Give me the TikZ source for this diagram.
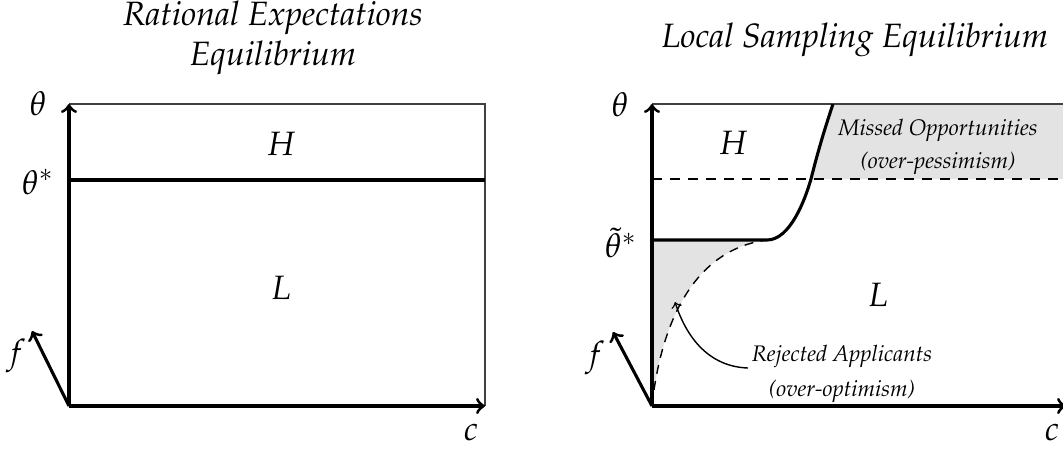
\documentclass[tikz,border=0pt]{standalone}
\usepackage{amsmath}
\usepackage{mathpazo}
\usepackage[T1]{fontenc}
\usetikzlibrary{calc}

\begin{document}
\begin{tikzpicture}[x=0.0125cm, y=-0.0125cm, thick,
    axis/.style={line width=1.1pt, ->},
    frame/.style={line width=0.5pt, black!75},
    shade/.style={fill=black!11, draw=none},
    note/.style={font=\footnotesize\itshape, align=center, inner sep=1pt}]
  \useasboundingbox (0,0) rectangle (1063,448);

  % left panel: rational expectations
  \coordinate (O1) at (69,406);
  \coordinate (Y1) at (69,104);
  \coordinate (X1) at (485,406);
  \coordinate (F1) at (32,331);
  \coordinate (T1) at (485,104);
  \coordinate (S1a) at (69,180);
  \coordinate (S1b) at (485,180);

  \draw[frame] (Y1) -- (T1) -- (X1);
  \draw[line width=1.1pt] (S1a) -- (S1b);
  \draw[axis] (O1) -- (Y1);
  \draw[axis] (O1) -- (X1);
  \draw[axis] (O1) -- (F1);

  \node[font=\large\itshape, align=center] (title1) at (273,38) {Rational Expectations\\Equilibrium};
  \node[font=\large] (th1)  at (38,104) {$\theta$};
  \node[font=\large] (ths1) at (38,182) {$\theta^*$};
  \node[font=\large] (H1)   at (281,144) {$H$};
  \node[font=\large] (L1)   at (281,288) {$L$};
  \node[font=\large] (f1)   at (16,356) {$f$};
  \node[font=\large] (c1)   at (471,432) {$c$};

  % right panel: local sampling
  \coordinate (O2) at (652,406);
  \coordinate (Y2) at (652,104);
  \coordinate (X2) at (1066,406);
  \coordinate (F2) at (613,332);
  \coordinate (T2) at (1063,104);
  \coordinate (K)  at (767,240);   % kink of the cutoff
  \coordinate (M)  at (811,179);   % cutoff meets dashed line
  \coordinate (P)  at (833,104);   % cutoff at top
  \coordinate (D2a) at (652,179);
  \coordinate (D2b) at (1063,179);

  % shaded regions
  \fill[shade] (M) .. controls (819,147) and (826,125) .. (P) -- (T2) -- (D2b) -- cycle;
  \fill[shade] (652,240) -- (K) .. controls (690,250) and (660,330) .. (O2) -- cycle;

  \draw[frame] (Y2) -- (T2);
  \draw[line width=0.5pt, dash pattern=on 3.6pt off 2.8pt] (D2a) -- (D2b);
  \draw[line width=0.5pt, dash pattern=on 3.2pt off 2.6pt] (O2) .. controls (660,330) and (690,250) .. (K);
  \draw[line width=1.1pt] (652,240) -- (K)
    .. controls (790,240) and (805,200) .. (M)
    .. controls (819,147) and (826,125) .. (P);
  \draw[axis] (O2) -- (Y2);
  \draw[axis] (O2) -- (X2);
  \draw[axis] (O2) -- (F2);

  \node[font=\large\itshape] (title2) at (855,40) {Local Sampling Equilibrium};
  \node[font=\large] (th2)  at (620,105) {$\theta$};
  \node[font=\large] (ths2) at (621,243) {$\tilde{\theta}^*$};
  \node[font=\large] (H2)   at (733,143) {$H$};
  \node[font=\large] (L2)   at (878,295) {$L$};
  \node[font=\large] (f2)   at (595,358) {$f$};
  \node[font=\large] (c2)   at (1052,432) {$c$};

  \node[note] (miss) at (938,147) {Missed Opportunities\\[2pt](over-pessimism)};
  \node[note] (rej)  at (842,374) {Rejected Applicants\\[3pt](over-optimism)};
  \draw[line width=0.5pt, ->] (748,368) to[out=178, in=-72] (675,302);
\end{tikzpicture}
\end{document}
